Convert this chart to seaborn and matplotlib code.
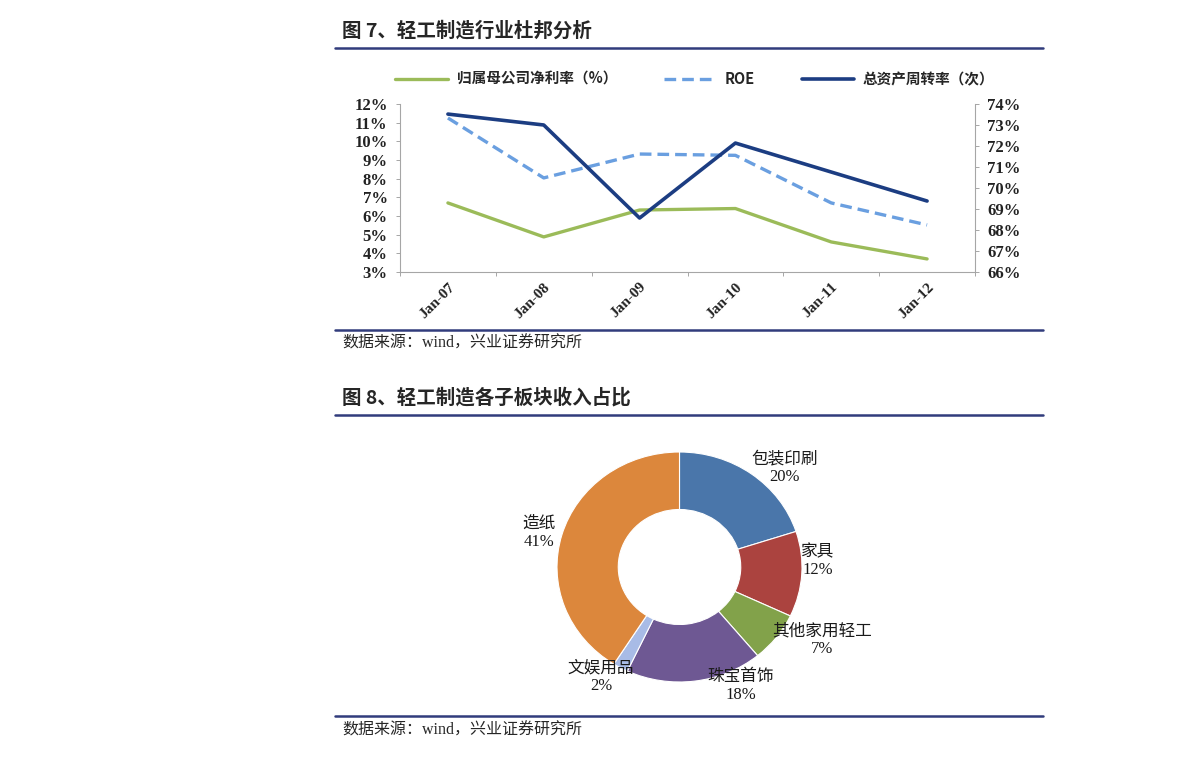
import numpy as np
import pandas as pd
import matplotlib
matplotlib.use("Agg")
import matplotlib.pyplot as plt
import seaborn as sns
from matplotlib.lines import Line2D

# ---- data ----
years = ["Jan-07", "Jan-08", "Jan-09", "Jan-10", "Jan-11", "Jan-12"]
net_margin = [6.70, 4.88, 6.32, 6.40, 4.61, 3.70]      # 归属母公司净利率 (%), left axis
roe = [11.25, 8.04, 9.32, 9.25, 6.70, 5.52]             # ROE (%), left axis
turnover = [73.52, 73.00, 68.57, 72.14, 70.76, 69.38]   # 总资产周转率, right axis (%)

segments = ["包装印刷", "家具", "其他家用轻工", "珠宝首饰", "文娱用品", "造纸"]
shares = [20, 12, 7, 18, 2, 41]
seg_colors = ["#4a76aa", "#ab433f", "#82a24a", "#6e5893", "#a8bbe6", "#dc873c"]

left_ticks = [3, 4, 5, 6, 7, 8, 9, 10, 11, 12]
right_ticks = [66, 67, 68, 69, 70, 71, 72, 73, 74]

sns.set_theme(style="white")
plt.rcParams["font.family"] = ["Noto Sans CJK SC", "DejaVu Sans"]
SERIF = ["Liberation Serif", "Noto Sans CJK SC"]

W, H = 1191, 760
fig = plt.figure(figsize=(W / 100, H / 100), dpi=100)


def fx(px):
    return px / W


def fy(py):
    return 1 - py / H


NAVY_RULE = "#313c7c"


def rule(py):
    fig.add_artist(Line2D([fx(335), fx(1043)], [fy(py), fy(py)], color=NAVY_RULE, lw=1.8,
                          transform=fig.transFigure))


# ---- figure 7: titles ----
fig.text(fx(342), fy(31), "图 7、轻工制造行业杜邦分析", fontsize=14, fontweight="bold",
         va="center", ha="left")
rule(48)
rule(330)
fig.text(fx(342), fy(344), "数据来源：wind，兴业证券研究所", fontsize=11.5, family=SERIF,
         va="center", ha="left")

# ---- line chart ----
ax = fig.add_axes([fx(400), fy(272), fx(975) - fx(400), (272 - 104) / H])
ax2 = ax.twinx()

df = pd.DataFrame({"year": years, "x": np.arange(len(years)),
                   "net": net_margin, "roe": roe, "turn": turnover})

sns.lineplot(data=df, x="x", y="net", ax=ax, color="#9bbb59", lw=2.4, legend=False)
sns.lineplot(data=df, x="x", y="roe", ax=ax, color="#6a9fe0", lw=2.4, legend=False,
             dashes=False)
ax.lines[-1].set_dashes([3.5, 1.8])
sns.lineplot(data=df, x="x", y="turn", ax=ax2, color="#1c3d82", lw=2.6, legend=False)

ax.set_xlim(-0.5, len(years) - 0.5)
ax.set_ylim(3, 12)
ax2.set_ylim(66, 74)
ax.set_yticks(left_ticks)
ax.set_yticklabels([f"{v}%" for v in left_ticks])
ax2.set_yticks(right_ticks)
ax2.set_yticklabels([f"{v}%" for v in right_ticks])
ax.set_xticks(np.arange(len(years)))
ax.set_xticklabels(years)
ax.set_xticks(np.arange(len(years) + 1) - 0.5, minor=True)
ax.set_xlabel("")
ax.set_ylabel("")
ax2.set_ylabel("")

for a in (ax, ax2):
    a.spines["top"].set_visible(False)
    for s in ("left", "right", "bottom"):
        a.spines[s].set_color("#a6a6a6")
        a.spines[s].set_linewidth(0.8)
ax.spines["bottom"].set_linestyle((0, (1, 1)))
ax.spines["right"].set_visible(False)
ax2.spines["left"].set_visible(False)
ax2.spines["bottom"].set_visible(False)

ax.tick_params(axis="y", which="major", left=True, length=3, width=0.7, color="#a6a6a6",
               pad=6, labelsize=12)
ax2.tick_params(axis="y", which="major", right=True, length=3, width=0.7, color="#a6a6a6",
                pad=6, labelsize=12)
ax.tick_params(axis="x", which="major", bottom=False, length=0, pad=6, labelsize=11)
ax.tick_params(axis="x", which="minor", bottom=True, length=3, width=0.7, color="#a6a6a6")

for lab in ax.get_yticklabels() + ax2.get_yticklabels():
    lab.set_family(SERIF)
    lab.set_fontweight("bold")
    lab.set_color("#222222")
for lab in ax.get_xticklabels():
    lab.set_family(SERIF)
    lab.set_fontweight("bold")
    lab.set_rotation(45)
    lab.set_ha("right")
    lab.set_rotation_mode("anchor")
    lab.set_color("#222222")

handles = [
    Line2D([], [], color="#9bbb59", lw=2.4),
    Line2D([], [], color="#6a9fe0", lw=2.4, dashes=[3.5, 1.8]),
    Line2D([], [], color="#1c3d82", lw=2.6),
]
fig.legend(handles, ["归属母公司净利率（%）", "ROE", "总资产周转率（次）"],
           loc="center", bbox_to_anchor=(fx(695), fy(79)), ncol=3, frameon=False,
           handlelength=3.6, columnspacing=3.2, handletextpad=0.6,
           prop={"size": 10.5, "weight": "bold"})

# ---- figure 8 ----
fig.text(fx(342), fy(398), "图 8、轻工制造各子板块收入占比", fontsize=14, fontweight="bold",
         va="center", ha="left")
rule(415)
rule(716)
fig.text(fx(342), fy(731), "数据来源：wind，兴业证券研究所", fontsize=11.5, family=SERIF,
         va="center", ha="left")

pax = fig.add_axes([fx(557), fy(682), (802 - 557) / W, (682 - 452) / H])
pax.pie(shares, colors=seg_colors, startangle=90, counterclock=False, radius=1,
        wedgeprops={"width": 0.5, "edgecolor": "white", "linewidth": 0.8})
pax.set_aspect("auto")
pax.set_xlim(-1, 1)
pax.set_ylim(-1, 1)
pax.axis("off")

label_pos = [(785, 468), (818, 561), (822, 640), (741, 686), (601, 677), (539, 533)]
for name, val, (px, py) in zip(segments, shares, label_pos):
    fig.text(fx(px), fy(py), f"{name}\n{val}%", fontsize=12, family=SERIF,
             ha="center", va="center", linespacing=1.15, color="#1a1a1a")

fig.savefig("out.png", dpi=100)
